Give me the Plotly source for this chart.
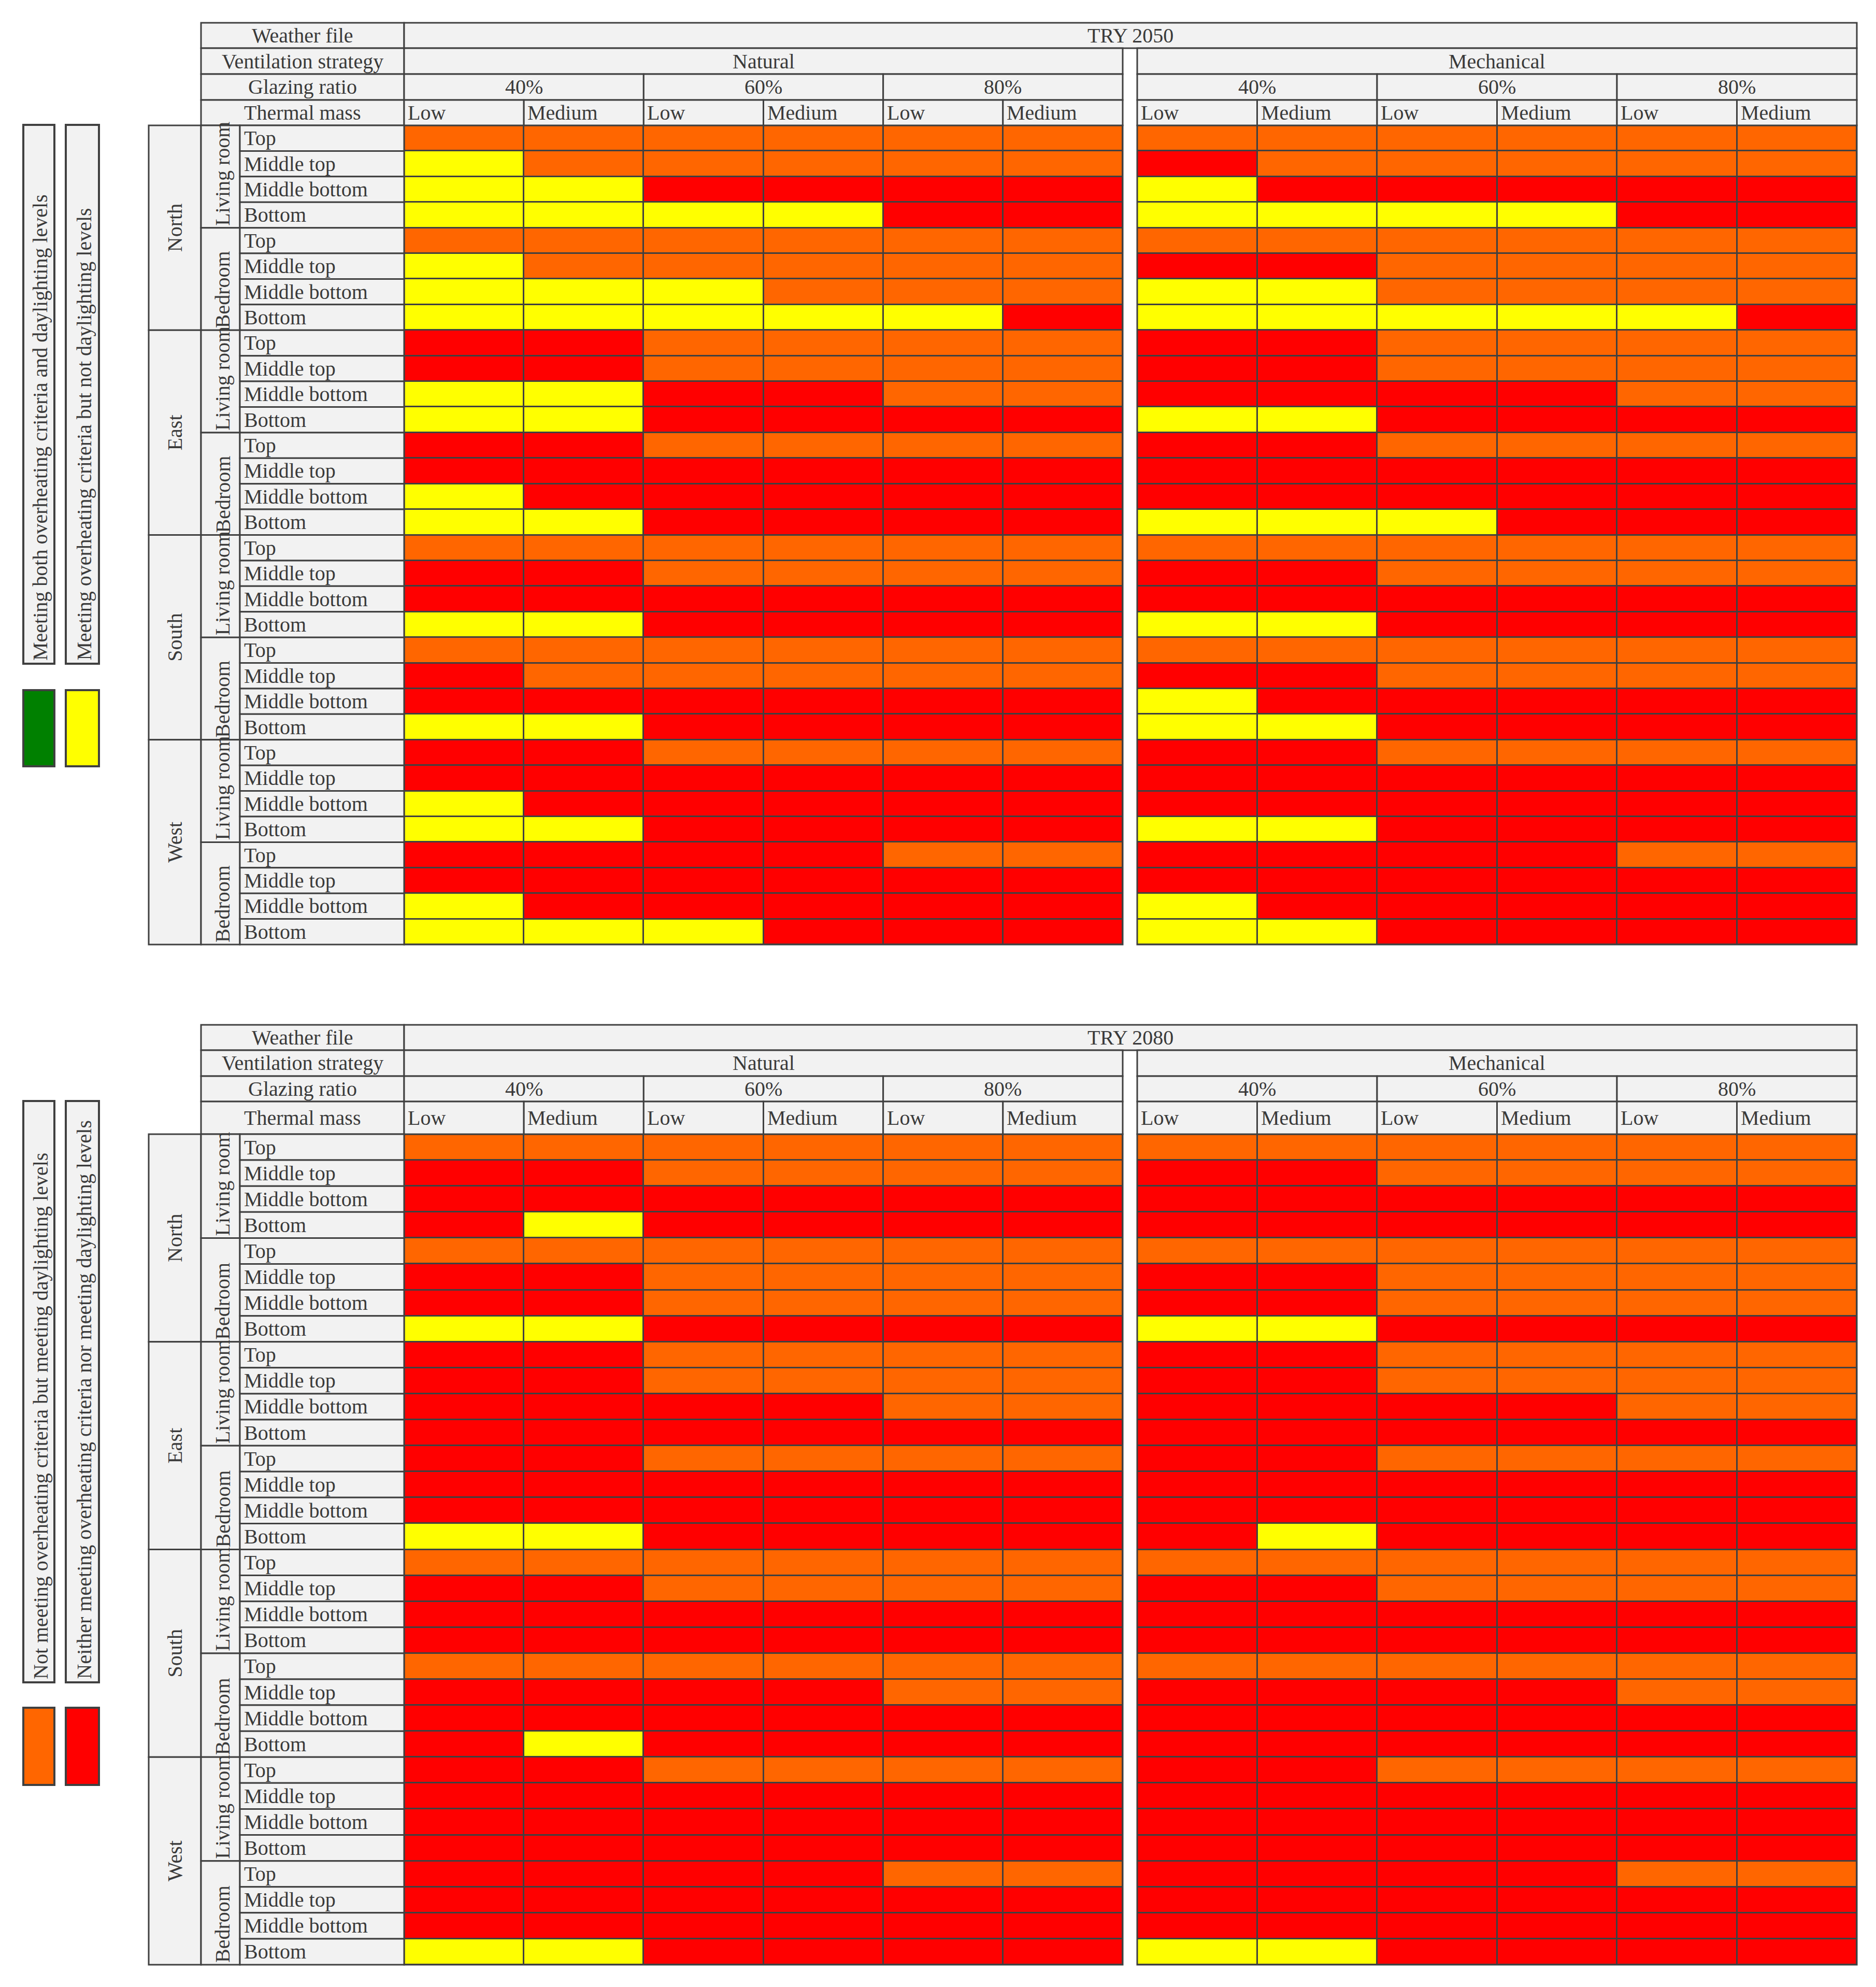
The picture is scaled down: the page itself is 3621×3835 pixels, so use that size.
import plotly.graph_objects as go

# ---- data ----
weather_files = ["TRY 2050", "TRY 2080"]
ventilation = ["Natural", "Mechanical"]
glazing = ["40%", "60%", "80%"]
thermal_mass = ["Low", "Medium"]
orientations = ["North", "East", "South", "West"]
rooms = ["Living room", "Bedroom"]
floors = ["Top", "Middle top", "Middle bottom", "Bottom"]
header_labels = ["Weather file", "Ventilation strategy", "Glazing ratio", "Thermal mass"]

legend_2050 = ["Meeting both overheating criteria and daylighting levels",
               "Meeting overheating criteria but not daylighting levels"]
legend_2050_codes = ["G", "Y"]
legend_2080 = ["Not meeting overheating criteria but meeting daylighting levels",
               "Neither meeting overheating criteria nor meeting daylighting levels"]
legend_2080_codes = ["O", "R"]

# one string per row (orientation > room > floor), one letter per
# glazing/thermal mass column: 40% Low, 40% Medium, 60% Low, ... 80% Medium
# G = green, Y = yellow, O = orange, R = red
try2050_natural = [
    "OOOOOO", "YOOOOO", "YYRRRR", "YYYYRR",   # North living room
    "OOOOOO", "YOOOOO", "YYYOOO", "YYYYYR",   # North bedroom
    "RROOOO", "RROOOO", "YYRROO", "YYRRRR",   # East living room
    "RROOOO", "RRRRRR", "YRRRRR", "YYRRRR",   # East bedroom
    "OOOOOO", "RROOOO", "RRRRRR", "YYRRRR",   # South living room
    "OOOOOO", "ROOOOO", "RRRRRR", "YYRRRR",   # South bedroom
    "RROOOO", "RRRRRR", "YRRRRR", "YYRRRR",   # West living room
    "RRRROO", "RRRRRR", "YRRRRR", "YYYRRR",   # West bedroom
]
try2050_mechanical = [
    "OOOOOO", "ROOOOO", "YRRRRR", "YYYYRR",
    "OOOOOO", "RROOOO", "YYOOOO", "YYYYYR",
    "RROOOO", "RROOOO", "RRRROO", "YYRRRR",
    "RROOOO", "RRRRRR", "RRRRRR", "YYYRRR",
    "OOOOOO", "RROOOO", "RRRRRR", "YYRRRR",
    "OOOOOO", "RROOOO", "YRRRRR", "YYRRRR",
    "RROOOO", "RRRRRR", "RRRRRR", "YYRRRR",
    "RRRROO", "RRRRRR", "YRRRRR", "YYRRRR",
]
try2080_natural = [
    "OOOOOO", "RROOOO", "RRRRRR", "RYRRRR",
    "OOOOOO", "RROOOO", "RROOOO", "YYRRRR",
    "RROOOO", "RROOOO", "RRRROO", "RRRRRR",
    "RROOOO", "RRRRRR", "RRRRRR", "YYRRRR",
    "OOOOOO", "RROOOO", "RRRRRR", "RRRRRR",
    "OOOOOO", "RRRROO", "RRRRRR", "RYRRRR",
    "RROOOO", "RRRRRR", "RRRRRR", "RRRRRR",
    "RRRROO", "RRRRRR", "RRRRRR", "YYRRRR",
]
try2080_mechanical = [
    "OOOOOO", "RROOOO", "RRRRRR", "RRRRRR",
    "OOOOOO", "RROOOO", "RROOOO", "YYRRRR",
    "RROOOO", "RROOOO", "RRRROO", "RRRRRR",
    "RROOOO", "RRRRRR", "RRRRRR", "RYRRRR",
    "OOOOOO", "RROOOO", "RRRRRR", "RRRRRR",
    "OOOOOO", "RRRROO", "RRRRRR", "RRRRRR",
    "RROOOO", "RRRRRR", "RRRRRR", "RRRRRR",
    "RRRROO", "RRRRRR", "RRRRRR", "YYRRRR",
]

# ---- styling / layout ----
PAGE_W, PAGE_H = 3621, 3835
OFF = 8   # default body margin of the html page
W, H = PAGE_W - 2 * OFF, PAGE_H - 2 * OFF
LINE = "#404040"
CELL = "#F2F2F2"
FONT = dict(family="Liberation Serif, Times New Roman, serif", size=40, color="#3a3a3a")
code_index = {"G": 0, "Y": 1, "O": 2, "R": 3}
code_color = {"G": "#008000", "Y": "#FFFF00", "O": "#FF6600", "R": "#FF0000"}
colorscale = [[0, "#008000"], [0.25, "#008000"], [0.25, "#FFFF00"], [0.5, "#FFFF00"],
              [0.5, "#FF6600"], [0.75, "#FF6600"], [0.75, "#FF0000"], [1, "#FF0000"]]

# x pixel edges (page coordinates)
X_ORIENT, X_ROOM, X_FLOOR, X_DATA = 287, 388, 463, 780
BLOCKS = [(780, 2167), (2195, 3584)]   # natural, mechanical

tables = [
    dict(weather=weather_files[0], values=[try2050_natural, try2050_mechanical],
         header=[44, 93, 143, 193, 242], bottom=1823,
         legend=legend_2050, legend_codes=legend_2050_codes,
         leg_text=(241, 1281), leg_swatch=(1332, 1479)),
    dict(weather=weather_files[1], values=[try2080_natural, try2080_mechanical],
         header=[1978, 2027, 2077, 2126, 2189], bottom=3792,
         legend=legend_2080, legend_codes=legend_2080_codes,
         leg_text=(2125, 3247), leg_swatch=(3296, 3445)),
]
LEG_X = [(45, 105), (127, 191)]

fig = go.Figure()


def px(x):
    return (x - OFF) / W


def py(y):
    return 1 - (y - OFF) / H


def box(x0, x1, y0, y1, fill=CELL, width=3):
    fig.add_shape(type="rect", xref="paper", yref="paper",
                  x0=px(x0), x1=px(x1), y0=py(y1), y1=py(y0),
                  fillcolor=fill, line=dict(color=LINE, width=width), layer="above")


def text(s, x, y, xanchor="center", yanchor="middle", angle=0):
    fig.add_annotation(text=s, x=px(x), y=py(y), xref="paper", yref="paper",
                       xanchor=xanchor, yanchor=yanchor, textangle=angle,
                       showarrow=False, font=FONT)


n_rows = len(orientations) * len(rooms) * len(floors)
n_cols = len(glazing) * len(thermal_mass)

for t, tab in enumerate(tables):
    hy = tab["header"]
    top, bottom = hy[-1], tab["bottom"]
    rh = (bottom - top) / n_rows

    # coloured cells
    for b, (bx0, bx1) in enumerate(BLOCKS):
        n = 2 * t + b + 1
        xa = "x" if n == 1 else f"x{n}"
        ya = "y" if t == 0 else f"y{t + 1}"
        z = [[code_index[c] for c in row] for row in tab["values"][b]]
        fig.add_trace(go.Heatmap(z=z, x=list(range(n_cols)), y=list(range(n_rows)),
                                 xaxis=xa, yaxis=ya, colorscale=colorscale,
                                 zmin=-0.5, zmax=3.5, showscale=False,
                                 xgap=3, ygap=3, hoverinfo="skip"))
        fig.layout["xaxis" if n == 1 else f"xaxis{n}"] = dict(
            domain=[px(bx0), px(bx1)], range=[-0.5, n_cols - 0.5],
            visible=False, anchor=ya, fixedrange=True)
        fig.layout["yaxis" if t == 0 else f"yaxis{t + 1}"] = dict(
            domain=[py(bottom), py(top)], range=[n_rows - 0.5, -0.5],
            visible=False, anchor=xa, fixedrange=True)
        box(bx0, bx1, top, bottom, fill="rgba(0,0,0,0)")

    # header label column
    for i, lab in enumerate(header_labels):
        box(X_ROOM, X_DATA, hy[i], hy[i + 1])
        text(lab, (X_ROOM + X_DATA) / 2, (hy[i] + hy[i + 1]) / 2)

    # weather file row spans both blocks
    box(X_DATA, BLOCKS[1][1], hy[0], hy[1])
    text(tab["weather"], (X_DATA + BLOCKS[1][1]) / 2, (hy[0] + hy[1]) / 2)

    for b, (bx0, bx1) in enumerate(BLOCKS):
        cw = (bx1 - bx0) / n_cols
        box(bx0, bx1, hy[1], hy[2])
        text(ventilation[b], (bx0 + bx1) / 2, (hy[1] + hy[2]) / 2)
        for g, gl in enumerate(glazing):
            gx0 = bx0 + g * len(thermal_mass) * cw
            gx1 = gx0 + len(thermal_mass) * cw
            box(gx0, gx1, hy[2], hy[3])
            text(gl, (gx0 + gx1) / 2, (hy[2] + hy[3]) / 2)
            for m, tm in enumerate(thermal_mass):
                mx0 = gx0 + m * cw
                box(mx0, mx0 + cw, hy[3], hy[4])
                text(tm, mx0 + 5, (hy[3] + hy[4]) / 2, xanchor="left")

    # row labels
    per_orient = len(rooms) * len(floors)
    for o, ori in enumerate(orientations):
        oy0 = top + o * per_orient * rh
        oy1 = oy0 + per_orient * rh
        box(X_ORIENT, X_ROOM, oy0, oy1)
        text(ori, (X_ORIENT + X_ROOM) / 2, (oy0 + oy1) / 2, angle=-90)
        for r, room in enumerate(rooms):
            ry0 = oy0 + r * len(floors) * rh
            ry1 = ry0 + len(floors) * rh
            box(X_ROOM, X_FLOOR, ry0, ry1)
            text(room, (X_ROOM + X_FLOOR) / 2 + 4, ry1 - 2, yanchor="bottom", angle=-90)
            for f, fl in enumerate(floors):
                fy0 = ry0 + f * rh
                box(X_FLOOR, X_DATA, fy0, fy0 + rh)
                text(fl, X_FLOOR + 6, fy0 + rh / 2, xanchor="left")

    # legend
    ty0, ty1 = tab["leg_text"]
    sy0, sy1 = tab["leg_swatch"]
    for k, (lx0, lx1) in enumerate(LEG_X):
        box(lx0, lx1, ty0, ty1, width=4)
        text(tab["legend"][k], (lx0 + lx1) / 2 + 3, ty1 - 4, yanchor="bottom", angle=-90)
        box(lx0, lx1, sy0, sy1, fill=code_color[tab["legend_codes"][k]], width=4)

fig.update_layout(width=W, height=H, margin=dict(l=0, r=0, t=0, b=0),
                  paper_bgcolor="white", plot_bgcolor=LINE, showlegend=False)
fig.write_html("out.html")
